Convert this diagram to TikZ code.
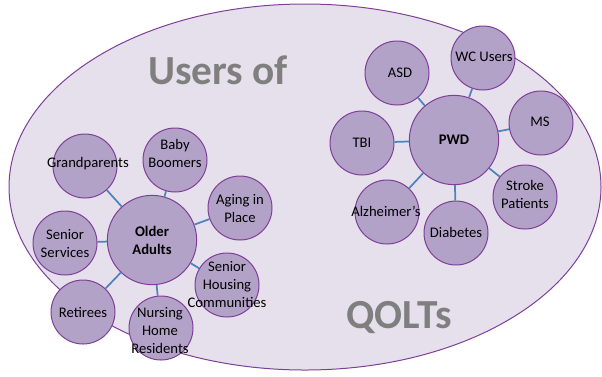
\documentclass[tikz,border=0pt]{standalone}
\usepackage{fontspec}
\setmainfont{Carlito}
\usepackage{tikz}
\definecolor{lilac}{HTML}{E6E0EC}
\definecolor{mauve}{HTML}{B3A2C7}
\definecolor{plum}{HTML}{7F3F98}
\definecolor{linkblue}{HTML}{4F81BD}
\definecolor{titlegray}{HTML}{7F7F7F}
\tikzset{every picture/.style={line width=0.75pt}}
\tikzset{
  hub/.style={circle,draw=plum,fill=mauve,minimum size=67pt,inner sep=0pt},
  sat/.style={circle,draw=plum,fill=mauve,minimum size=48pt,inner sep=0pt},
  txt/.style={align=center,font=\fontsize{11}{13.5}\selectfont,inner sep=0pt},
  link/.style={draw=linkblue,line width=1.3pt},
  bigtitle/.style={text=titlegray,font=\fontsize{31}{37}\selectfont\bfseries,inner sep=0pt}
}

\begin{document}
\begin{tikzpicture}[x=0.75pt,y=0.75pt,yscale=-1,xscale=1]
\useasboundingbox (0,0) rectangle (602,376);
% outer ellipse
\draw [draw=plum,fill=lilac] (305,187) ellipse (296 and 183);
\draw (218,70) node [bigtitle] (ttl) {Users of};
\draw (399,318) node [bigtitle] (ttr) {QOLTs};

% older adults group
\node [hub] (oa) at (152,240) {};
\node [sat] (gp) at (85,166) {};
\node [sat] (bb) at (175,160) {};
\node [sat] (ap) at (240,208) {};
\node [sat] (ss) at (65,243) {};
\node [sat] (sh) at (227,285) {};
\node [sat] (rt) at (83,312) {};
\node [sat] (nh) at (161,328) {};
\foreach \s in {gp,bb,ap,ss,sh,rt,nh} \draw [link] (oa) -- (\s);
\node [txt,font=\fontsize{11}{13.5}\selectfont\bfseries] at (oa) {Older\\Adults};
\node [txt] at (88,164) {Grandparents};
\node [txt] at (175,153) {Baby\\Boomers};
\node [txt] at (240,208) {Aging in\\Place};
\node [txt] at (65,243) {Senior\\Services};
\node [txt] at (227,284) {Senior\\Housing\\Communities};
\node [txt] at (83,312) {Retirees};
\node [txt] at (160,330) {Nursing\\Home\\Residents};

% people with disabilities group
\node [hub] (pwd) at (454,140) {};
\node [sat] (asd) at (397,73) {};
\node [sat] (wc) at (483,58) {};
\node [sat] (ms) at (541,123) {};
\node [sat] (tbi) at (362,143) {};
\node [sat] (sp) at (525,197) {};
\node [sat] (alz) at (387,212) {};
\node [sat] (dia) at (456,233) {};
\foreach \s in {asd,wc,ms,tbi,sp,alz,dia} \draw [link] (pwd) -- (\s);
\node [txt,font=\fontsize{11}{13.5}\selectfont\bfseries] at (pwd) {PWD};
\node [txt] at (400,73) {ASD};
\node [txt] at (484,57) {WC Users};
\node [txt] at (540,122) {MS};
\node [txt] at (362,143) {TBI};
\node [txt] at (525,194) {Stroke\\Patients};
\node [txt] at (386,211) {Alzheimer’s};
\node [txt] at (456,232) {Diabetes};
\end{tikzpicture}
\end{document}
